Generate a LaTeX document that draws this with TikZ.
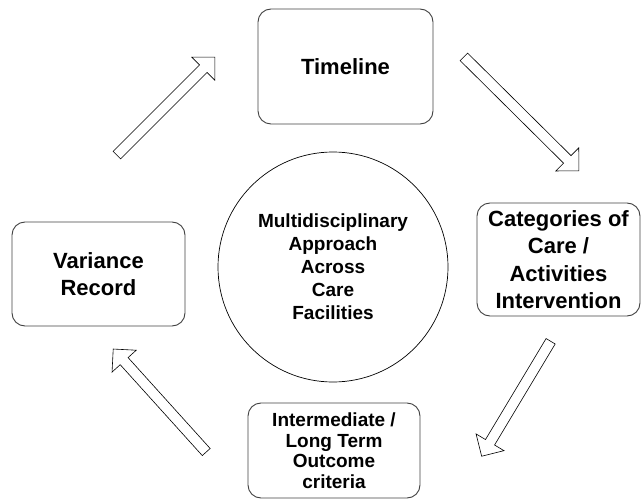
\documentclass[tikz,border=0pt]{standalone}
\usepackage{fontspec}
\setmainfont{Liberation Sans}
\usetikzlibrary{shapes.arrows,calc}

\tikzset{
  box/.style={draw=black!75, line width=0.9pt, rounded corners=13pt, align=center, inner sep=1pt},
  bigtext/.style={font=\bfseries\fontsize{22}{27.5}\selectfont},
  smalltext/.style={font=\bfseries\fontsize{19}{20.5}\selectfont},
  blockarrow/.style={single arrow, draw=black, fill=white, line width=0.6pt, inner sep=5pt,
    single arrow head extend=11pt, single arrow tip angle=90, single arrow head indent=0pt, outer sep=0pt}
}

% hollow arrow from #1 to #2
\newcommand\cyclearrow[2]{%
  \path let \p1=($(#2)-(#1)$), \n1={veclen(\x1,\y1)}, \n2={atan2(\y1,\x1)} in
    node[blockarrow, minimum height=\n1, rotate=\n2] at ($(#1)!0.5!(#2)$) {};
}

\begin{document}
\begin{tikzpicture}[x=1pt,y=-1pt]
\useasboundingbox (0,0) rectangle (643,500);

\node[box, bigtext, minimum width=175pt, minimum height=115pt] (timeline) at (345.5,66.5) {Timeline};
\node[box, bigtext, minimum width=163pt, minimum height=113pt] (care) at (558.5,259.5) {Categories of\\Care /\\Activities\\Intervention};
\node[box, smalltext, minimum width=172pt, minimum height=95pt] (outcome) at (334,450.5) {Intermediate /\\Long Term\\Outcome\\criteria};
\node[box, bigtext, minimum width=173pt, minimum height=104pt] (variance) at (98.5,274) {Variance\\Record};

\node[circle, draw, line width=0.7pt, minimum size=230pt, align=center, inner sep=0pt,
  font=\bfseries\fontsize{19}{23}\selectfont] (approach) at (333,267)
  {Multidisciplinary\\Approach\\Across\\Care\\Facilities};

\coordinate (v2t) at (115,157);
\coordinate (v2tend) at (213,59);
\coordinate (t2c) at (462,55);
\coordinate (t2cend) at (577,169);
\coordinate (c2o) at (552,339);
\coordinate (c2oend) at (483,454);
\coordinate (o2v) at (208,454);
\coordinate (o2vend) at (115,351);

\cyclearrow{v2t}{v2tend}
\cyclearrow{t2c}{t2cend}
\cyclearrow{c2o}{c2oend}
\cyclearrow{o2v}{o2vend}
\end{tikzpicture}
\end{document}
